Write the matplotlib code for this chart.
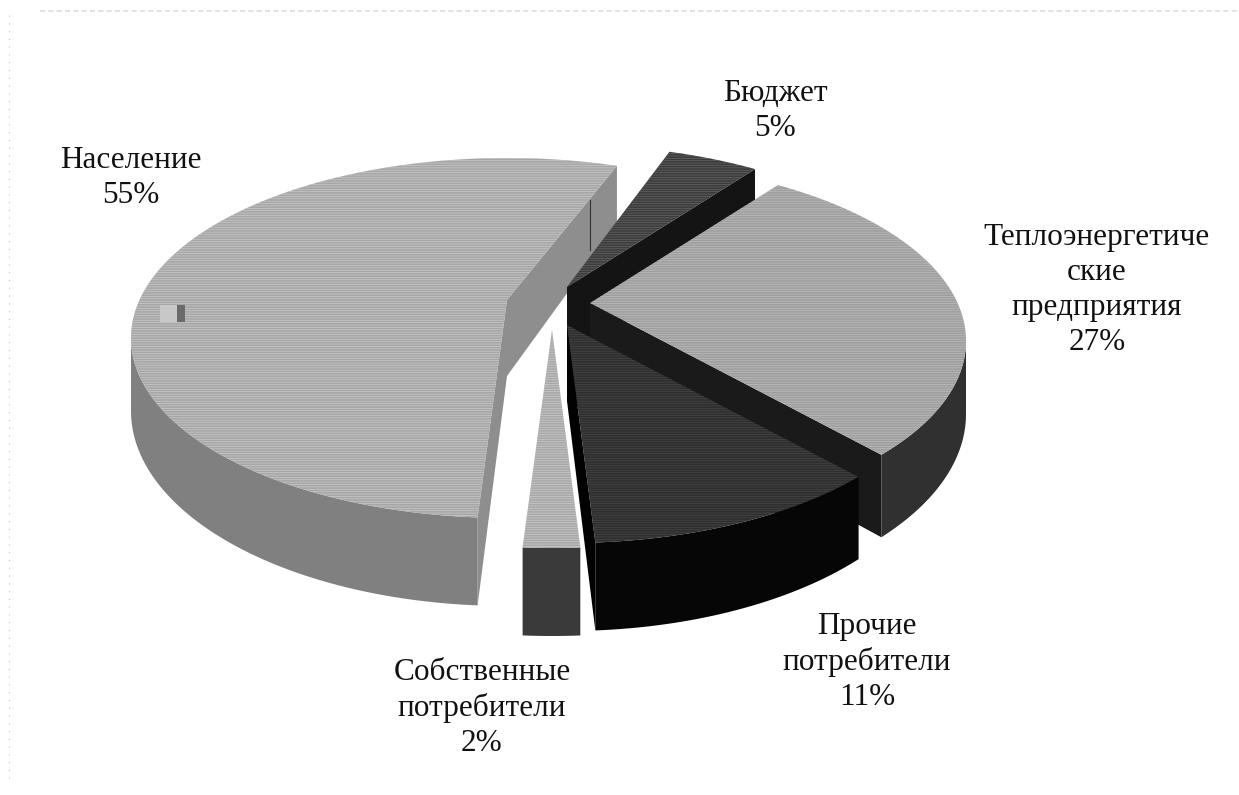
import numpy as np
import matplotlib
matplotlib.use('Agg')
import matplotlib.pyplot as plt
from matplotlib.patches import Polygon, Rectangle

plt.rcParams['font.family'] = ['Liberation Serif', 'DejaVu Serif']
plt.rcParams['hatch.linewidth'] = 0.5

# данные
labels = ['Бюджет', 'Теплоэнергетиче\nские\nпредприятия', 'Прочие\nпотребители',
          'Собственные\nпотребители', 'Население']
values = [5, 27, 11, 2, 55]

# оформление
explode_x = [12, 35, 12, -3, -48]
explode_y = [-18, -2, 20, 25, -5]
top_colors = ['#3c3c3c', '#9e9e9e', '#2e2e2e', '#a8a8a8', '#a6a6a6']
hatch_colors = ['#666666', '#bebebe', '#484848', '#cccccc', '#cccccc']
wall_colors = ['#101010', '#303030', '#060606', '#3a3a3a', '#808080']
face_colors = ['#141414', '#1a1a1a', '#020202', '#8a8a8a', '#8e8e8e']
label_x = [775, 1097, 867, 482, 131]
label_y = [111, 290, 662, 708, 178]
cuts = [[1], [1], [0, 1], [], [0, 1]]  # какие срезы сектора видны

cx, cy = 555, 305
rx, ry = 376, 180
shift = 38
start = 73


def warp(a):
    # перспектива сдвигает края секторов
    return (a - 6 * np.exp(-((a + 95) / 20) ** 2)
            + 5 * np.exp(-((a - 55) / 15) ** 2)
            + 3 * np.exp(-((a + 42) / 15) ** 2))


def rim(a, tip, low=False):
    a = np.atleast_1d(a)
    t = np.radians(warp(a))
    x = tip[0] + rx * np.cos(t)
    y = tip[1] + shift - ry * np.sin(t)
    if low:
        y = y + 73 - 15 * np.sin(t)
    return np.column_stack([x, y])


fig = plt.figure(figsize=(12.39, 7.95), dpi=100)
ax = fig.add_axes([0, 0, 1, 1])
ax.set_xlim(0, 1239)
ax.set_ylim(795, 0)
ax.axis('off')

# углы секторов
edges = start - np.cumsum([0] + values) * 3.6

# сзади вперёд: сначала население
order = [4, 0, 1, 2, 3]
for z, i in enumerate(order):
    arc = np.linspace(edges[i], edges[i + 1], 200)
    tip = (cx + explode_x[i], cy + explode_y[i])
    tip_low = (tip[0], tip[1] + 76)
    # срезы
    for k in cuts[i]:
        e = edges[i + k]
        pts = [tip, rim(e, tip)[0], rim(e, tip, True)[0], tip_low]
        ax.add_patch(Polygon(pts, fc=face_colors[i], ec='none', zorder=z + 1))
    # внешняя стенка
    wall = arc[(arc < 0) & (arc > -180)]
    if len(wall) > 1:
        pts = np.vstack([rim(wall, tip), rim(wall, tip, True)[::-1]])
        ax.add_patch(Polygon(pts, fc=wall_colors[i], ec='none', zorder=z + 1))
    # верх
    pts = np.vstack([[tip], rim(arc, tip)])
    ax.add_patch(Polygon(pts, fc=top_colors[i], ec=hatch_colors[i], lw=0, hatch='-------', zorder=z + 1))

# остатки легенды и следы сканирования
ax.add_patch(Rectangle((160, 305), 25, 17, fc='#c8c8c8', ec='none', zorder=7))
ax.add_patch(Rectangle((177, 305), 8, 17, fc='#6a6a6a', ec='none', zorder=7))
ax.plot([590, 590], [200, 250], color='#333333', lw=0.8, zorder=7)
ax.plot([40, 1239], [11, 11], color='#dddddd', lw=1.2, ls=(0, (3, 2)), zorder=0)
ax.plot([9, 9], [15, 780], color='#c4c4c4', lw=0.8, ls=(0, (1, 6)), zorder=0)

for i in range(len(values)):
    ax.text(label_x[i], label_y[i], '{}\n{}%'.format(labels[i], values[i]), ha='center', va='center',
            fontsize=22.5, linespacing=1.27, color='#111111', zorder=8)

fig.savefig('out.png', dpi=100)
